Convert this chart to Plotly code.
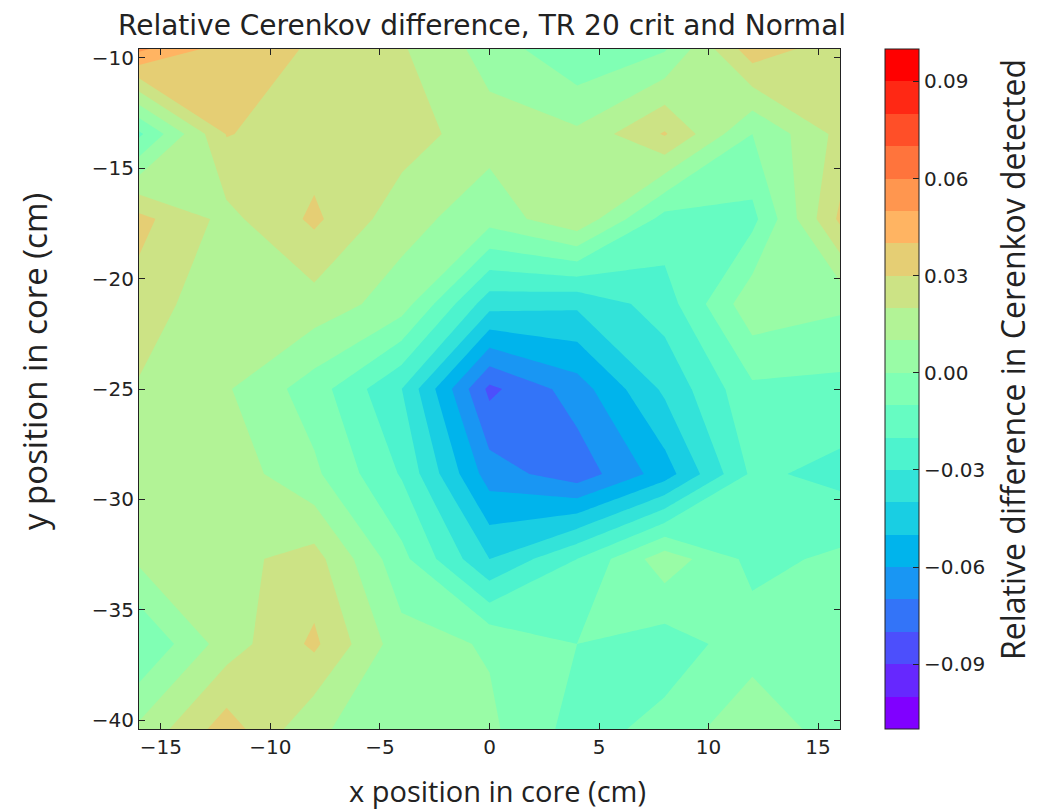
import math
import plotly.graph_objects as go

# ---- data -------------------------------------------------------------
x_pos = [-16, -12, -8, -4, 0, 4, 8, 12, 16]
y_pos = [-40.4, -36.55, -32.7, -28.85, -25.0, -21.15, -17.3, -13.45, -9.6]

row_m40 = [0.012, 0.035, 0.012, 0.002, 0.002, -0.014, -0.007, 0.008, -0.006]
row_m37 = [-0.010, 0.015, 0.032, 0.004, -0.001, -0.010, -0.015, -0.005, -0.002]
row_m33 = [0.012, 0.017, 0.024, -0.007, -0.040, -0.020, 0.006, -0.013, -0.008]
row_m29 = [0.016, 0.016, 0.002, -0.021, -0.065, -0.076, -0.055, -0.018, -0.023]
row_m25 = [0.019, 0.011, -0.005, -0.030, -0.0825, -0.065, -0.038, -0.012, -0.013]
row_m21 = [0.026, 0.012, 0.016, 0.005, -0.036, -0.038, -0.025, 0.007, 0.002]
row_m17 = [0.033, 0.017, 0.032, 0.014, 0.004, 0.018, -0.014, -0.013, 0.032]
row_m13 = [-0.012, 0.0305, 0.025, 0.025, 0.014, 0.012, 0.031, 0.000, 0.023]
row_m10 = [0.052, 0.035, 0.029, 0.021, 0.006, -0.009, -0.001, 0.036, 0.024]

z_rows = [row_m40, row_m37, row_m33, row_m29, row_m25, row_m21, row_m17, row_m13, row_m10]

x_ticks = [-15, -10, -5, 0, 5, 10, 15]
y_ticks = [-40, -35, -30, -25, -20, -15, -10]
cb_tickvals = [-0.09, -0.06, -0.03, 0.0, 0.03, 0.06, 0.09]
cb_ticktext = ["\u22120.09", "\u22120.06", "\u22120.03", "0.00", "0.03", "0.06", "0.09"]

title_text = "Relative Cerenkov difference, TR 20 crit and Normal"
x_label = "x position in core (cm)"
y_label = "y position in core (cm)"
cb_label = "Relative difference in Cerenkov detected"

# ---- style ------------------------------------------------------------
LEV_START, LEV_END, LEV_SIZE = -0.10, 0.09, 0.01
CB_MIN, CB_MAX = -0.11, 0.10
N_BANDS = 21


def rainbow(t):
    r = min(1.0, max(0.0, abs(2 * t - 0.5)))
    g = min(1.0, max(0.0, math.sin(math.pi * t)))
    b = min(1.0, max(0.0, math.cos(math.pi * t / 2)))
    return "rgb(%d,%d,%d)" % (round(r * 255), round(g * 255), round(b * 255))


band_colors = [rainbow(k / (N_BANDS - 1)) for k in range(N_BANDS)]
contour_scale = [[k / (N_BANDS - 1), band_colors[k]] for k in range(N_BANDS)]
step_scale = []
for k in range(N_BANDS):
    step_scale.append([k / N_BANDS, band_colors[k]])
    step_scale.append([(k + 1) / N_BANDS, band_colors[k]])

INK = "#222222"
TICK_FONT = dict(family="DejaVu Sans", size=20, color=INK)

W, H = 1038, 812
L, R, T, B = 131, 206, 41, 91
PW, PH = W - L - R, H - T - B


def px(xp):
    return (xp - L) / PW


def py(yp):
    return (H - B - yp) / PH


fig = go.Figure()
fig.add_trace(go.Contour(
    x=x_pos, y=y_pos, z=z_rows,
    autocontour=False,
    contours=dict(start=LEV_START, end=LEV_END, size=LEV_SIZE,
                  coloring="fill", showlines=False),
    line=dict(width=0, smoothing=0),
    colorscale=contour_scale,
    showscale=False,
    hoverinfo="skip",
))

fig.add_trace(go.Scatter(
    x=[0], y=[-25], mode="markers", hoverinfo="skip", showlegend=False,
    marker=dict(size=1, opacity=0, color=[0], cmin=CB_MIN, cmax=CB_MAX,
                colorscale=step_scale, showscale=True,
                colorbar=dict(
                    x=px(877), xanchor="left", y=0.5, yanchor="middle",
                    len=1, lenmode="fraction", thickness=34, thicknessmode="pixels",
                    xpad=0, ypad=0, outlinewidth=1, outlinecolor=INK,
                    ticks="inside", ticklen=6, tickcolor=INK, tickwidth=1,
                    tickvals=cb_tickvals, ticktext=cb_ticktext, tickfont=TICK_FONT,
                )),
))

axis_common = dict(showgrid=False, zeroline=False, showline=True, linecolor=INK,
                   linewidth=1, mirror="ticks", ticks="inside", ticklen=6,
                   tickcolor=INK, tickwidth=1, tickfont=TICK_FONT)
fig.update_xaxes(range=[-16, 16], tickvals=x_ticks, **axis_common)
fig.update_yaxes(range=[-40.4, -9.6], tickvals=y_ticks, **axis_common)

fig.update_layout(
    width=W, height=H, autosize=False,
    margin=dict(l=L, r=R, t=T, b=B),
    paper_bgcolor="white", plot_bgcolor="white",
    showlegend=False,
    annotations=[
        dict(text=title_text, x=px(474), y=py(18), xref="paper", yref="paper",
             xanchor="center", yanchor="middle", showarrow=False,
             font=dict(family="DejaVu Sans", size=28, color=INK)),
        dict(text=x_label, x=px(489), y=py(783), xref="paper", yref="paper",
             xanchor="center", yanchor="middle", showarrow=False,
             font=dict(family="Open Sans", size=29, color=INK)),
        dict(text=y_label, x=px(26), y=py(354), xref="paper", yref="paper",
             xanchor="center", yanchor="middle", showarrow=False, textangle=-90,
             font=dict(family="Open Sans", size=33, color=INK)),
        dict(text=cb_label, x=px(1004), y=py(352), xref="paper", yref="paper",
             xanchor="center", yanchor="middle", showarrow=False, textangle=-90,
             font=dict(family="Open Sans", size=32, color=INK)),
    ],
)

fig.write_html("out.html")
